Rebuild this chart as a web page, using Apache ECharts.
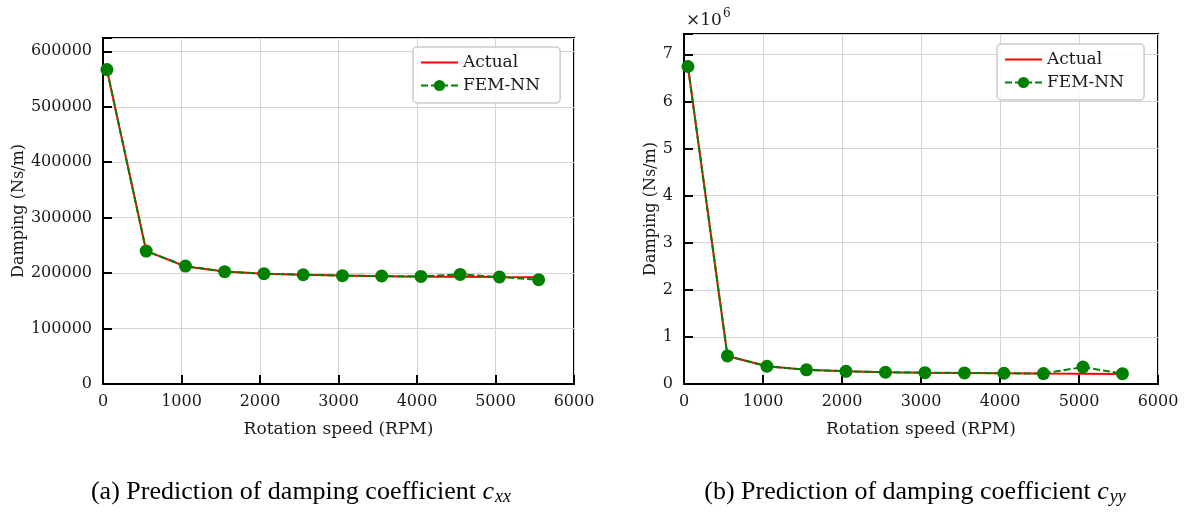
<!DOCTYPE html>
<html>
<head>
<meta charset="utf-8">
<script src="https://cdn.jsdelivr.net/npm/echarts@6/dist/echarts.min.js"></script>
<style>html,body{margin:0;padding:0;background:#fff}#c{width:1186px;height:512px}</style>
</head>
<body>
<div id="c"></div>
<script>
// Rotation speed (RPM)
const speeds = [50, 550, 1050, 1550, 2050, 2550, 3050, 3550, 4050, 4550, 5050, 5550];
// c_xx damping (Ns/m)
const cxxActual = [567000, 240000, 212000, 203000, 199000, 197000, 195500, 194500, 193500, 193200, 192800, 192500];
const cxxFemNN  = [567000, 239700, 212700, 202500, 199000, 197000, 195300, 194800, 194000, 197700, 193000, 188000];
// c_yy damping (Ns/m)
const cyyActual = [6740000, 596000, 377000, 300000, 270000, 250000, 240000, 235000, 228000, 222000, 218000, 214000];
const cyyFemNN  = [6740000, 596000, 377000, 300000, 270000, 250000, 240000, 235000, 228000, 222000, 360000, 220000];
// tick labels
const xTicks = [0, 1000, 2000, 3000, 4000, 5000, 6000];
const cxxTicks = [0, 100000, 200000, 300000, 400000, 500000, 600000];
const cyyTicks = [0, 1, 2, 3, 4, 5, 6, 7];

const FONT = 'DejaVu Serif';
const TXT = '#1a1a1a';
const zip = (xs, ys) => xs.map((x, i) => [x, ys[i]]);

const chart = echarts.init(document.getElementById('c'), null, {renderer: 'canvas'});

function xAxisCfg(gi) {
  return {
    type: 'value', gridIndex: gi, min: 0, max: 6000, interval: 1000,
    name: 'Rotation speed (RPM)', nameLocation: 'middle', nameGap: 37,
    nameTextStyle: {fontFamily: FONT, fontSize: 17, color: TXT},
    axisLine: {show: true, onZero: false, lineStyle: {color: '#000', width: 2}},
    axisTick: {show: true, inside: true, length: 9, lineStyle: {color: '#000', width: 2}},
    axisLabel: {fontFamily: FONT, fontSize: 16, color: TXT, margin: 10,
      formatter: v => xTicks.includes(v) ? String(v) : ''},
    splitLine: {show: true, lineStyle: {color: '#d4d4d4', width: 1}}
  };
}

function legendCfg(left, top) {
  return {
    left: left, top: top, orient: 'vertical', itemWidth: 37, itemHeight: 14, itemGap: 6,
    padding: [7, 20, 9, 7], itemTextGap: 14,
    borderColor: '#cccccc', borderWidth: 1.5, borderRadius: 4, backgroundColor: 'rgba(255,255,255,0.85)',
    textStyle: {fontFamily: FONT, fontSize: 17, color: TXT},
    data: [{name: 'Actual', itemStyle: {opacity: 0}}, 'FEM-NN']
  };
}

const option = {
  animation: false,
  grid: [
    {left: 103, right: 612, top: 38, bottom: 128, show: true, borderColor: '#000', borderWidth: 2, backgroundColor: 'transparent'},
    {left: 684, right: 28, top: 34, bottom: 128, show: true, borderColor: '#000', borderWidth: 2, backgroundColor: 'transparent'}
  ],
  xAxis: [xAxisCfg(0), xAxisCfg(1)],
  yAxis: [
    {
      type: 'value', gridIndex: 0, min: 0, max: 624000, interval: 100000,
      name: 'Damping (Ns/m)', nameLocation: 'middle', nameGap: 76, nameRotate: 90,
      nameTextStyle: {fontFamily: FONT, fontSize: 16, color: TXT},
      axisLine: {show: true, lineStyle: {color: '#000', width: 2}},
      axisTick: {show: true, inside: true, length: 9, lineStyle: {color: '#000', width: 2}},
      axisLabel: {fontFamily: FONT, fontSize: 16, color: TXT, margin: 11,
        formatter: v => cxxTicks.includes(v) ? String(v) : ''},
      splitLine: {show: true, lineStyle: {color: '#d4d4d4', width: 1}}
    },
    {
      type: 'value', gridIndex: 1, min: 0, max: 7430000, interval: 1000000,
      name: 'Damping (Ns/m)', nameLocation: 'middle', nameGap: 22, nameRotate: 90,
      nameTextStyle: {fontFamily: FONT, fontSize: 16, color: TXT},
      axisLine: {show: true, lineStyle: {color: '#000', width: 2}},
      axisTick: {show: true, inside: true, length: 9, lineStyle: {color: '#000', width: 2}},
      axisLabel: {fontFamily: FONT, fontSize: 16, color: TXT, margin: 11,
        formatter: v => cyyTicks.includes(v / 1e6) ? String(v / 1e6) : ''},
      splitLine: {show: true, lineStyle: {color: '#d4d4d4', width: 1}}
    }
  ],
  legend: [legendCfg(413, 47), legendCfg(997, 44)],
  series: [
    {name: 'Actual', type: 'line', xAxisIndex: 0, yAxisIndex: 0, data: zip(speeds, cxxActual),
      showSymbol: false, symbol: 'none', lineStyle: {color: '#ff0000', width: 2}, itemStyle: {color: '#ff0000'}, z: 2},
    {name: 'FEM-NN', type: 'line', xAxisIndex: 0, yAxisIndex: 0, data: zip(speeds, cxxFemNN),
      symbol: 'circle', symbolSize: 13, lineStyle: {color: '#008000', width: 2, type: [7, 3]}, itemStyle: {color: '#008000'}, z: 3},
    {name: 'Actual', type: 'line', xAxisIndex: 1, yAxisIndex: 1, data: zip(speeds, cyyActual),
      showSymbol: false, symbol: 'none', lineStyle: {color: '#ff0000', width: 2}, itemStyle: {color: '#ff0000'}, z: 2},
    {name: 'FEM-NN', type: 'line', xAxisIndex: 1, yAxisIndex: 1, data: zip(speeds, cyyFemNN),
      symbol: 'circle', symbolSize: 13, lineStyle: {color: '#008000', width: 2, type: [7, 3]}, itemStyle: {color: '#008000'}, z: 3}
  ],
  graphic: [
    {type: 'text', left: 686, top: 8, style: {
      text: '{a|×10}{s|6}', rich: {
        a: {fontFamily: FONT, fontSize: 17, fill: TXT, verticalAlign: 'bottom'},
        s: {fontFamily: FONT, fontSize: 12, fill: TXT, verticalAlign: 'top', padding: [0, 0, 9, 1]}
      }}},
    {type: 'text', x: 301, y: 492, style: {
      text: '{n|(a) Prediction of damping coefficient }{i|c}{sub|xx}', align: 'center', verticalAlign: 'middle',
      rich: {
        n: {fontFamily: 'Liberation Serif', fontSize: 26, fill: '#000'},
        i: {fontFamily: 'Liberation Serif', fontStyle: 'italic', fontSize: 26, fill: '#000'},
        sub: {fontFamily: 'Liberation Serif', fontStyle: 'italic', fontSize: 18, fill: '#000', padding: [10, 0, 0, 1]}
      }}},
    {type: 'text', x: 915, y: 492, style: {
      text: '{n|(b) Prediction of damping coefficient }{i|c}{sub|yy}', align: 'center', verticalAlign: 'middle',
      rich: {
        n: {fontFamily: 'Liberation Serif', fontSize: 26, fill: '#000'},
        i: {fontFamily: 'Liberation Serif', fontStyle: 'italic', fontSize: 26, fill: '#000'},
        sub: {fontFamily: 'Liberation Serif', fontStyle: 'italic', fontSize: 18, fill: '#000', padding: [10, 0, 0, 1]}
      }}}
  ]
};
chart.setOption(option);
</script>
</body>
</html>
